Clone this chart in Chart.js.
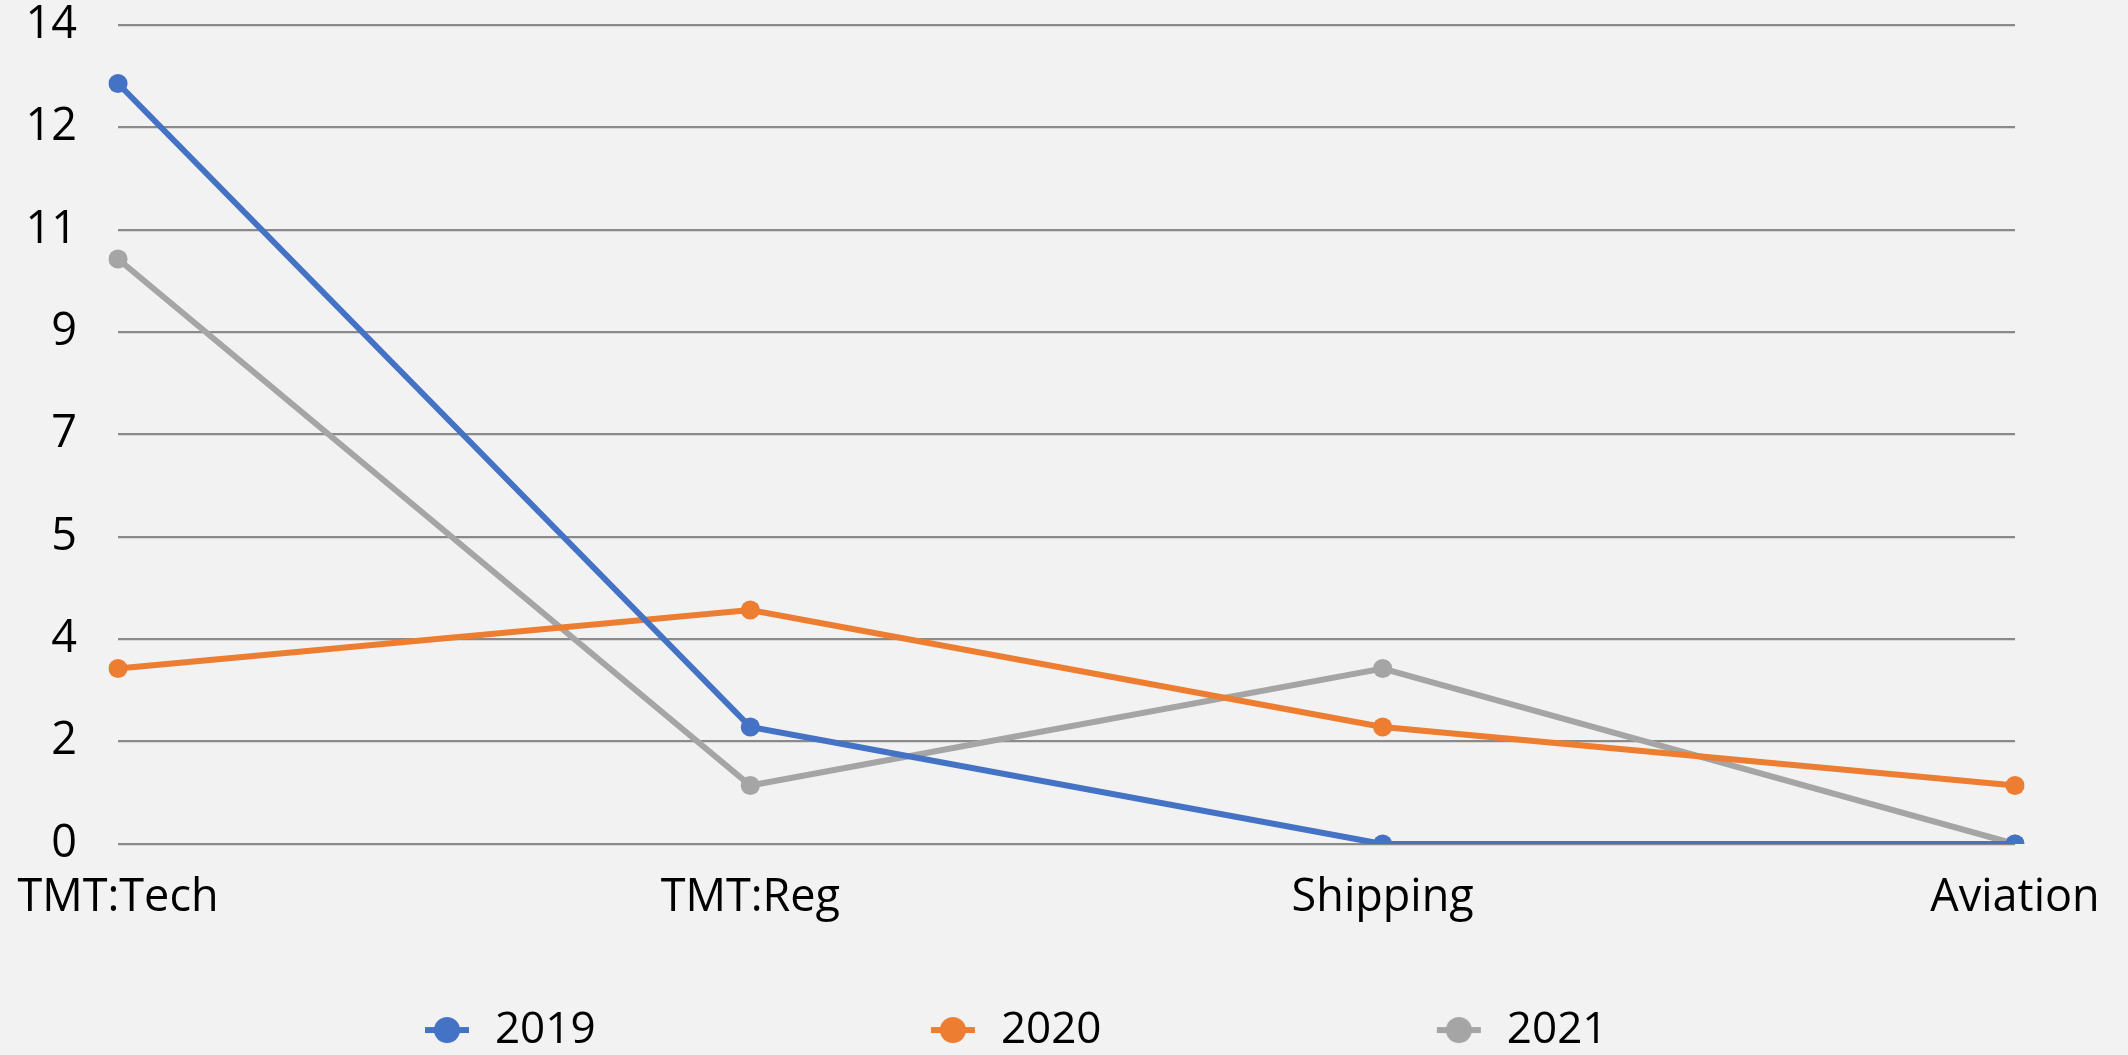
<!DOCTYPE html>
<html><head><meta charset="utf-8">
<script src="https://cdn.jsdelivr.net/npm/chart.js@4"></script>
<style>html,body{margin:0;padding:0;background:#f2f2f2;overflow:hidden}canvas{display:block}</style>
</head><body><canvas id="c" width="2128" height="1055"></canvas>
<script>
const categories = ['TMT:Tech', 'TMT:Reg', 'Shipping', 'Aviation'];
const seriesNames = ['2019', '2020', '2021'];
const values2019 = [13, 2, 0, 0];
const values2020 = [3, 4, 2, 1];
const values2021 = [10, 1, 3, 0];
const yTickLabels = ['0', '2', '4', '5', '7', '9', '11', '12', '14'];
const seriesColors = ['#4472C4', '#ED7D31', '#A5A5A5'];

function makeMarker(color) {
  const c = document.createElement('canvas');
  c.width = 50; c.height = 30;
  const g = c.getContext('2d');
  g.strokeStyle = color; g.lineWidth = 6;
  g.beginPath(); g.moveTo(2, 15); g.lineTo(46, 15); g.stroke();
  g.fillStyle = color;
  g.beginPath(); g.arc(24, 15, 13, 0, Math.PI * 2); g.fill();
  return c;
}
const blank = document.createElement('canvas'); blank.width = 1; blank.height = 1;
const markers = seriesColors.map(makeMarker);

function spacer() {
  return { text: '', fillStyle: 'rgba(0,0,0,0)', strokeStyle: 'rgba(0,0,0,0)', lineWidth: 0, pointStyle: blank, hidden: false };
}

const allValues = [values2019, values2020, values2021];
const datasets = seriesNames.map((n, i) => ({
  label: n,
  data: allValues[i],
  borderColor: seriesColors[i],
  backgroundColor: seriesColors[i],
  pointBackgroundColor: seriesColors[i],
  borderWidth: 6,
  pointRadius: 9.6,
  pointHoverRadius: 9.6,
  pointBorderWidth: 0,
  tension: 0,
  fill: false
}));

new Chart(document.getElementById('c'), {
  type: 'line',
  data: { labels: categories, datasets },
  options: {
    responsive: false,
    animation: false,
    devicePixelRatio: 1,
    layout: { padding: { left: 8.6, right: 113, top: 25, bottom: 0 } },
    plugins: {
      tooltip: { enabled: false },
      legend: {
        position: 'bottom',
        align: 'start',
        maxHeight: 56,
        onClick: () => {},
        labels: {
          usePointStyle: true,
          pointStyleWidth: 50,
          padding: 9.06,
          color: '#000',
          font: { family: '"Open Sans"', size: 44, lineHeight: 1 },
          generateLabels: (chart) => {
            const items = [];
            for (let k = 0; k < 5; k++) items.push(spacer());
            seriesNames.forEach((n, i) => {
              if (i > 0) for (let k = 0; k < 4; k++) items.push(spacer());
              items.push({ text: n, fillStyle: seriesColors[i], strokeStyle: seriesColors[i], lineWidth: 0, pointStyle: markers[i], hidden: false, datasetIndex: i });
            });
            return items;
          }
        }
      }
    },
    scales: {
      x: {
        offset: false,
        grid: { display: true, drawOnChartArea: false, drawTicks: true, tickLength: 32, tickColor: 'rgba(0,0,0,0)' },
        border: { display: false },
        ticks: {
          autoSkip: false, maxRotation: 0, padding: 0, color: '#000',
          font: { family: '"Open Sans"', size: 45, lineHeight: 1 }
        },
        afterFit: (s) => { s.height = 155; }
      },
      y: {
        min: 0, max: 14,
        grid: { color: '#8a8a8a', lineWidth: 2.3, drawTicks: true, tickLength: 41, tickColor: 'rgba(0,0,0,0)' },
        border: { display: false },
        ticks: {
          stepSize: 1.75, padding: 0, color: '#000',
          font: { family: '"Open Sans"', size: 45, lineHeight: 1 },
          callback: (v, i) => yTickLabels[i]
        },
        afterFit: (s) => { s.width = 109.4; }
      }
    }
  }
});
</script>
</body></html>
